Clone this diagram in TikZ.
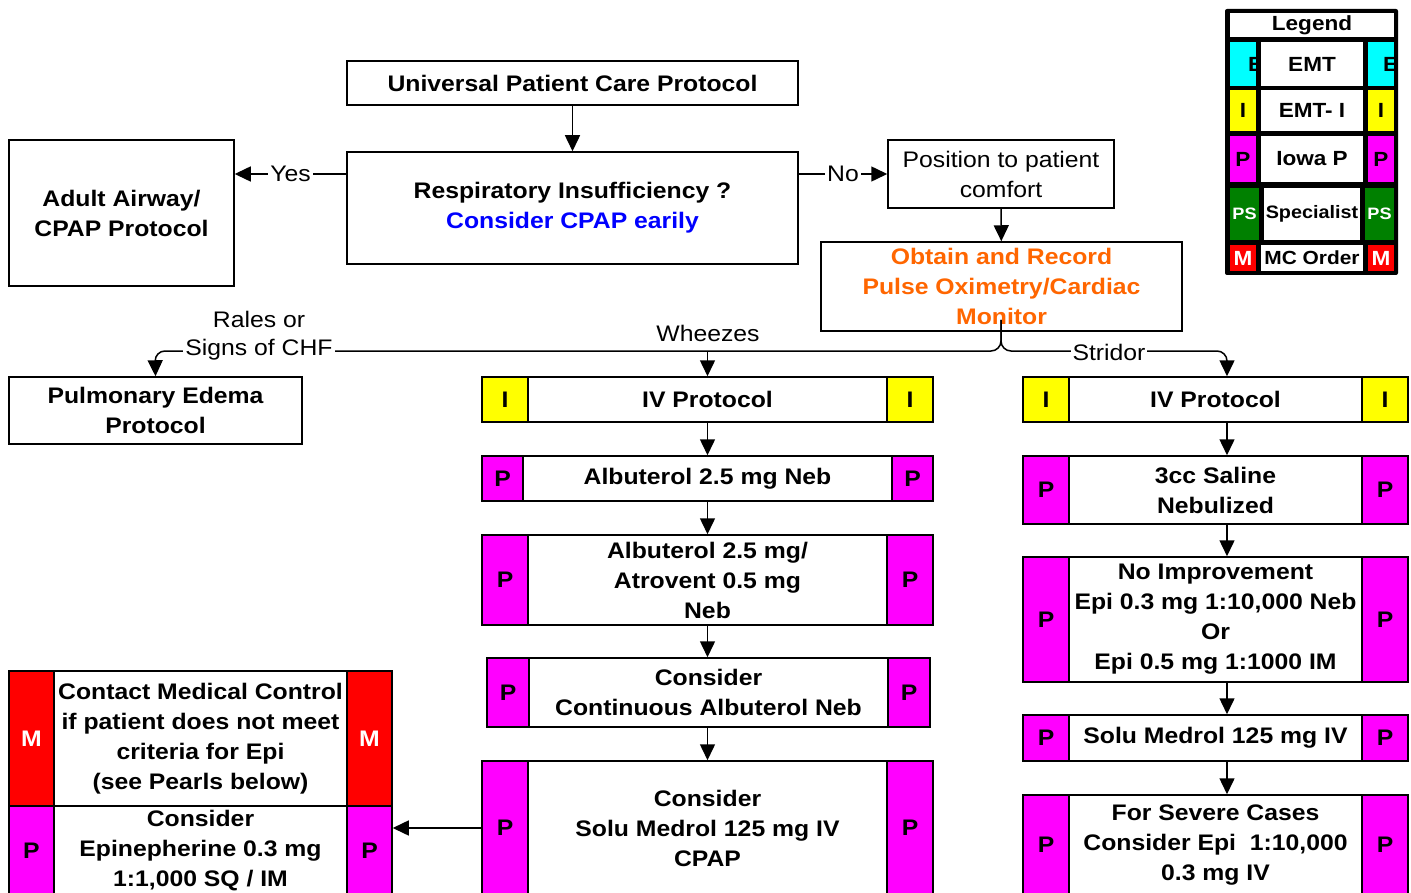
\documentclass[tikz,border=0pt]{standalone}
\usepackage{fontspec}
\setmainfont{Liberation Sans}[FakeStretch=1.1]
\usetikzlibrary{arrows.meta,calc}
\definecolor{orng}{RGB}{255,102,0}
\definecolor{cpapblue}{RGB}{0,0,255}
\definecolor{bmag}{RGB}{255,0,255}
\definecolor{byel}{RGB}{255,255,0}
\definecolor{bred}{RGB}{255,0,0}
\definecolor{bgrn}{RGB}{0,128,0}
\definecolor{bcya}{RGB}{0,255,255}
\newcommand{\mainfont}{\fontsize{22.5}{30}\selectfont}
\newcommand{\legfont}{\fontsize{20.5}{24}\selectfont}
\tikzset{
  box/.style={draw, line width=1.5pt, fill=white, align=center, inner sep=0pt, font=\bfseries\mainfont},
  plainbox/.style={draw, line width=1.5pt, fill=white, align=center, inner sep=0pt, font=\mainfont},
  badge/.style={draw, line width=1.5pt, inner sep=0pt, font=\bfseries\mainfont},
  pbadge/.style={fill=bmag},
  ibadge/.style={fill=byel},
  mbadge/.style={fill=bred, text=white},
  arr/.style={line width=1.5pt, -{Triangle[length=16pt,width=15pt]}},
  lbl/.style={fill=white, inner sep=2pt, font=\mainfont},
  lcell/.style={inner sep=0pt, font=\bfseries\legfont},
}
% name, x1, y1, x2, y2, badge width, badge style, letter, text
\newcommand{\tribox}[9]{%
  \node[box, minimum width={#4-#2}, minimum height={#5-#3}] (#1) at ({(#2+#4)/2},{(#3+#5)/2}) {#9};
  \node[badge, #7, minimum width=#6, minimum height={#5-#3}, anchor=north west] (#1-l) at (#1.north west) {#8};
  \node[badge, #7, minimum width=#6, minimum height={#5-#3}, anchor=north east] (#1-r) at (#1.north east) {#8};
}
% name, x1, y1, x2, y2, style, text
\newcommand{\onebox}[7]{%
  \node[#6, minimum width={#4-#2}, minimum height={#5-#3}] (#1) at ({(#2+#4)/2},{(#3+#5)/2}) {#7};
}
\begin{document}
\begin{tikzpicture}[x=1pt, y=-1pt]
\useasboundingbox (0,0) rectangle (1411,893);

% top boxes
\onebox{univ}{347}{61}{798}{105}{box}{Universal Patient Care Protocol}
\onebox{resp}{347}{152}{798}{264}{box}{Respiratory Insufficiency ?\\\textcolor{cpapblue}{Consider CPAP earily}}
\onebox{adult}{9}{140}{234}{286}{box}{Adult Airway/\\CPAP Protocol}
\onebox{pos}{888}{140}{1114}{208}{plainbox}{Position to patient\\comfort}
\onebox{obt}{821}{242}{1182}{331}{box}{\textcolor{orng}{Obtain and Record}\\\textcolor{orng}{Pulse Oximetry/Cardiac}\\\textcolor{orng}{Monitor}}
\onebox{pulm}{9}{377}{302}{444}{box}{Pulmonary Edema\\Protocol}

% middle column
\tribox{ivM}{482}{377}{933}{422}{46}{ibadge}{I}{IV Protocol}
\tribox{albA}{482}{456}{933}{501}{41}{pbadge}{P}{Albuterol 2.5 mg Neb}
\tribox{albB}{482}{535}{933}{625}{46}{pbadge}{P}{Albuterol 2.5 mg/\\Atrovent 0.5 mg\\Neb}
\tribox{cont}{487}{658}{930}{727}{42}{pbadge}{P}{Consider\\Continuous Albuterol Neb}
\tribox{solu}{482}{761}{933}{895}{46}{pbadge}{P}{Consider\\Solu Medrol 125 mg IV\\CPAP}

% right column
\tribox{ivR}{1023}{377}{1408}{422}{46}{ibadge}{I}{IV Protocol}
\tribox{sal}{1023}{456}{1408}{524}{46}{pbadge}{P}{3cc Saline\\Nebulized}
\tribox{noimp}{1023}{557}{1408}{682}{46}{pbadge}{P}{No Improvement\\Epi 0.3 mg 1:10,000 Neb\\Or\\Epi 0.5 mg 1:1000 IM}
\tribox{soluR}{1023}{715}{1408}{761}{46}{pbadge}{P}{Solu Medrol 125 mg IV}
\tribox{sev}{1023}{795}{1408}{895}{46}{pbadge}{P}{For Severe Cases\\Consider Epi~~1:10,000\\0.3 mg IV}

% left bottom
\tribox{contact}{9}{671}{392}{806}{45}{mbadge}{M}{Contact Medical Control\\if patient does not meet\\criteria for Epi\\(see Pearls below)}
\tribox{epi}{9}{806}{392}{895}{45}{pbadge}{P}{Consider\\Epinepherine 0.3 mg\\1:1,000 SQ / IM}

% connectors top
\draw[arr] (univ) -- (resp);
\draw[arr] (resp.west |- pos.west) -- node[lbl] (yes) {Yes} (adult.east |- pos.west);
\draw[arr] (resp.east |- pos.west) -- node[lbl] (no) {No} (pos.west);
\draw[arr] (pos) -- (obt);

% branches
\coordinate (br) at (1001,320);
\coordinate (lft) at (155,351);
\coordinate (rgt) at (1227,351);
\draw[arr, rounded corners=10pt] (br) |- (lft) -- (pulm.north);
\draw[arr, rounded corners=10pt] (br) |- (rgt) -- ([xshift=11.5pt]ivR.north);
\coordinate (wz) at (ivM.north |- lft);
\draw[arr] (wz) -- (ivM.north);
\node[lbl] (signs) at (259,350) {Signs of CHF};
\node[lbl] (rales) at (259,319) {Rales or};
\node[lbl] (wheezes) at (708,333) {Wheezes};
\node[lbl] (stridor) at (1109,352) {Stridor};

% middle column arrows
\draw[arr] (ivM.south) -- (albA.north);
\draw[arr] (albA.south) -- (albA.south |- albB.north);
\draw[arr] (albB.south) -- (albB.south |- cont.north);
\draw[arr] (cont.south -| albB.south) -- (albB.south |- solu.north);
\draw[arr] (solu.west) -- (solu.west -| epi.east);

% right column arrows
\draw[arr] ([xshift=11.5pt]ivR.south) -- ([xshift=11.5pt]sal.north);
\draw[arr] ([xshift=11.5pt]sal.south) -- ([xshift=11.5pt]noimp.north);
\draw[arr] ([xshift=11.5pt]noimp.south) -- ([xshift=11.5pt]soluR.north);
\draw[arr] ([xshift=11.5pt]soluR.south) -- ([xshift=11.5pt]sev.north);

% legend
\fill[black, rounded corners=2pt] (1225,9) rectangle (1398,275);
\node[lcell, fill=white, minimum width=164, minimum height=24] (lgd) at (1312,25) {Legend};
% EMT row
\fill[bcya] (1230,42) rectangle (1256,86);
\fill[bcya] (1368,42) rectangle (1394,86);
\begin{scope}
  \clip (1230,42) rectangle (1256,86);
  \node[lcell, anchor=west] (eL) at (1248,64) {E};
\end{scope}
\begin{scope}
  \clip (1368,42) rectangle (1394,86);
  \node[lcell, anchor=west] (eR) at (1383,64) {E};
\end{scope}
\node[lcell, fill=white, minimum width=102, minimum height=44] (lemt) at (1312,64) {EMT};
% EMT-I row
\node[lcell, fill=byel, minimum width=26, minimum height=41] (liL) at (1243,110.5) {I};
\node[lcell, fill=white, minimum width=102, minimum height=41] (lemti) at (1312,110.5) {EMT- I};
\node[lcell, fill=byel, minimum width=26, minimum height=41] (liR) at (1381,110.5) {I};
% Iowa P row
\node[lcell, fill=bmag, minimum width=26, minimum height=46] (lpL) at (1243,159) {P};
\node[lcell, fill=white, minimum width=102, minimum height=46] (liowa) at (1312,159) {Iowa P};
\node[lcell, fill=bmag, minimum width=26, minimum height=46] (lpR) at (1381,159) {P};
% Specialist row
\node[lcell, fill=bgrn, text=white, minimum width=29, minimum height=52, font=\bfseries\fontsize{16.5}{20}\selectfont] (lsL) at (1244.5,214) {PS};
\node[lcell, fill=white, minimum width=96, minimum height=52, font=\bfseries\fontsize{18}{22}\selectfont] (lspec) at (1312,214) {Specialist};
\node[lcell, fill=bgrn, text=white, minimum width=29, minimum height=52, font=\bfseries\fontsize{16.5}{20}\selectfont] (lsR) at (1379.5,214) {PS};
% MC row
\node[lcell, fill=bred, text=white, minimum width=26, minimum height=26] (lmL) at (1243,258) {M};
\node[lcell, fill=white, minimum width=102, minimum height=26, font=\bfseries\fontsize{19}{22}\selectfont] (lmc) at (1312,258) {MC Order};
\node[lcell, fill=bred, text=white, minimum width=26, minimum height=26] (lmR) at (1381,258) {M};
\end{tikzpicture}
\end{document}
